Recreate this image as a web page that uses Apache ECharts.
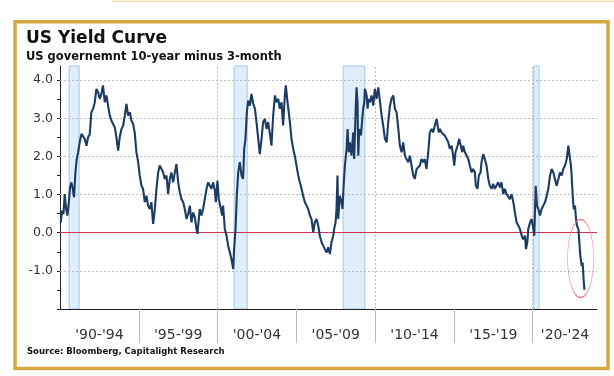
<!DOCTYPE html>
<html>
<head>
<meta charset="utf-8">
<script src="https://cdn.jsdelivr.net/npm/echarts@6/dist/echarts.min.js"></script>
<style>
html,body{margin:0;padding:0;background:#fff;}
#chart{width:614px;height:376px;}
</style>
</head>
<body>
<div id="chart"></div>
<script>
// [decimal year, 10y - 3m spread in %]
var spread1990s = [
[1990.05,0.27],[1990.13,0.58],[1990.22,0.49],[1990.30,1.01],[1990.39,0.62],[1990.47,0.45],[1990.56,0.80],[1990.64,1.19],
[1990.72,1.32],[1990.81,1.15],[1990.89,0.93],[1990.98,1.58],[1991.06,1.93],[1991.15,2.11],[1991.25,2.37],[1991.36,2.59],
[1991.47,2.63],[1991.57,2.46],[1991.68,2.28],[1991.78,2.50],[1991.89,2.59],[1991.99,3.16],[1992.10,3.25],[1992.21,3.42],
[1992.31,3.77],[1992.42,3.68],[1992.52,3.51],[1992.63,3.64],[1992.73,3.86],[1992.84,3.42],[1992.95,3.60],[1993.05,3.33],
[1993.16,3.07],[1993.26,2.94],[1993.37,2.98],[1993.48,2.76],[1993.58,2.50],[1993.69,2.15],[1993.79,2.50],[1993.90,2.72],
[1994.01,2.81],[1994.11,3.07],[1994.22,3.38],[1994.32,3.07],[1994.43,3.16],[1994.53,2.94],[1994.64,2.85],[1994.74,2.63],
[1994.85,2.11],[1994.96,1.85],[1995.06,1.50],[1995.17,1.23],[1995.27,1.15],[1995.38,0.80],[1995.49,0.97],[1995.59,0.71],
[1995.70,0.62],[1995.80,0.80],[1995.91,0.23],[1996.02,0.62],[1996.12,1.15],[1996.23,1.58],[1996.33,1.76],[1996.44,1.67],
[1996.55,1.58],[1996.65,1.41],[1996.76,1.50],[1996.86,1.01],[1996.97,1.41],[1997.07,1.58],[1997.18,1.32],[1997.29,1.58],
[1997.39,1.80],[1997.50,1.32],[1997.60,1.06],[1997.71,0.88],[1997.82,0.80],[1997.92,0.62],[1998.03,0.36],[1998.13,0.49],
[1998.24,0.71],[1998.34,0.27],[1998.45,0.53],[1998.56,0.40],[1998.66,0.10],[1998.72,-0.03],[1998.81,0.36],[1998.87,0.62],
[1998.98,0.45],[1999.08,0.62],[1999.19,0.88],[1999.30,1.15],[1999.40,1.32],[1999.51,1.23],[1999.61,1.15],[1999.72,1.32],
[1999.83,1.10],[1999.89,0.80],[1999.99,1.36]
];
var spread2000s = [
[2000.08,0.88],[2000.21,0.62],[2000.29,0.45],[2000.35,0.71],[2000.46,0.10],[2000.57,-0.08],[2000.67,-0.34],[2000.78,-0.52],
[2000.88,-0.69],[2000.99,-0.95],[2001.05,-0.43],[2001.14,0.10],[2001.22,0.97],[2001.31,1.58],[2001.41,1.85],[2001.52,1.50],
[2001.62,1.41],[2001.69,2.20],[2001.77,2.46],[2001.86,3.16],[2001.94,3.46],[2002.05,3.33],[2002.15,3.64],[2002.26,3.38],
[2002.37,3.25],[2002.47,2.90],[2002.58,2.46],[2002.68,2.06],[2002.79,2.46],[2002.89,2.90],[2003.00,2.98],[2003.11,2.72],
[2003.21,2.90],[2003.32,2.59],[2003.42,2.28],[2003.53,3.07],[2003.64,3.60],[2003.74,3.42],[2003.85,3.51],[2003.95,3.25],
[2004.06,3.42],[2004.16,2.81],[2004.27,3.60],[2004.33,3.86],[2004.44,3.42],[2004.59,2.90],[2004.69,2.46],[2004.80,2.20],
[2004.90,2.02],[2005.01,1.76],[2005.12,1.50],[2005.22,1.32],[2005.33,1.15],[2005.43,0.97],[2005.54,0.80],[2005.65,0.71],
[2005.75,0.62],[2005.86,0.45],[2005.96,0.36],[2006.07,0.01],[2006.17,0.27],[2006.28,0.36],[2006.39,0.18],[2006.49,-0.08],
[2006.60,-0.25],[2006.70,-0.30],[2006.81,-0.43],[2006.92,-0.52],[2007.02,-0.38],[2007.13,-0.56],[2007.23,-0.25],[2007.34,-0.08],
[2007.40,0.10],[2007.49,0.27],[2007.55,0.62],[2007.61,1.50],[2007.66,0.36],[2007.76,0.97],[2007.87,0.80],[2007.93,0.62],
[2007.99,1.15],[2008.04,1.50],[2008.08,1.76],[2008.19,2.20],[2008.25,2.72],[2008.33,2.11],[2008.40,2.37],[2008.50,2.02],
[2008.61,2.63],[2008.67,1.93],[2008.76,3.16],[2008.82,3.81],[2008.88,3.42],[2008.93,2.02],[2008.99,2.72],[2009.10,2.55],
[2009.18,2.98],[2009.24,3.25],[2009.31,3.42],[2009.35,3.77],[2009.46,3.60],[2009.52,3.25],[2009.60,3.51],[2009.67,3.42],
[2009.77,3.60],[2009.88,3.33],[2009.98,3.77]
];
var spread2010s = [
[2010.09,3.51],[2010.20,3.81],[2010.30,3.46],[2010.41,3.07],[2010.51,2.81],[2010.62,2.46],[2010.73,2.37],[2010.83,2.90],
[2010.94,3.33],[2011.04,3.51],[2011.15,3.60],[2011.25,3.25],[2011.36,3.16],[2011.47,2.72],[2011.57,2.28],[2011.68,2.11],
[2011.78,2.37],[2011.89,2.02],[2011.99,1.93],[2012.10,1.85],[2012.21,2.02],[2012.31,1.76],[2012.42,1.50],[2012.52,1.41],
[2012.63,1.67],[2012.74,1.71],[2012.84,1.76],[2012.94,1.93],[2013.05,1.85],[2013.15,1.93],[2013.26,1.67],[2013.37,2.11],
[2013.47,2.63],[2013.58,2.72],[2013.68,2.63],[2013.79,2.81],[2013.90,2.98],[2013.96,2.94],[2014.04,2.63],[2014.11,2.72],
[2014.21,2.63],[2014.32,2.59],[2014.42,2.55],[2014.53,2.46],[2014.64,2.37],[2014.74,2.20],[2014.85,2.28],[2014.95,2.02],
[2015.02,1.76],[2015.10,2.11],[2015.23,2.28],[2015.33,2.46],[2015.44,2.41],[2015.53,2.11],[2015.59,2.28],[2015.70,2.11],
[2015.80,2.06],[2015.91,1.93],[2016.01,1.76],[2016.12,1.58],[2016.22,1.67],[2016.33,1.58],[2016.39,1.23],[2016.50,1.15],
[2016.58,1.50],[2016.69,1.58],[2016.75,1.85],[2016.86,2.06],[2016.96,1.93],[2017.07,1.76],[2017.18,1.41],[2017.28,1.23],
[2017.39,1.15],[2017.49,1.28],[2017.60,1.15],[2017.71,1.10],[2017.81,1.32],[2017.92,1.19],[2018.02,1.32],[2018.13,1.01],
[2018.23,1.15],[2018.34,1.01],[2018.45,0.97],[2018.55,0.88],[2018.66,1.01],[2018.77,0.80],[2018.87,0.53],[2018.98,0.27],
[2019.09,0.18],[2019.19,0.10],[2019.30,-0.08],[2019.40,-0.17],[2019.51,-0.08],[2019.57,-0.43],[2019.66,-0.25],[2019.72,0.10],
[2019.83,0.27],[2019.93,0.36]
];
var spread2020s = [
[2020.04,0.10],[2020.10,-0.08],[2020.19,1.23],[2020.27,0.71],[2020.36,0.62],[2020.46,0.45],[2020.57,0.62],[2020.67,0.71],
[2020.78,0.80],[2020.89,0.97],[2020.99,1.15],[2021.10,1.50],[2021.20,1.67],[2021.31,1.58],[2021.41,1.41],[2021.52,1.23],
[2021.63,1.41],[2021.73,1.58],[2021.84,1.50],[2021.94,1.67],[2022.05,1.76],[2022.16,1.93],[2022.26,2.28],[2022.30,2.33],
[2022.37,1.93],[2022.43,1.76],[2022.47,1.50],[2022.54,0.97],[2022.60,0.62],[2022.68,0.71],[2022.75,0.36],[2022.81,0.18],
[2022.90,0.10],[2022.96,-0.25],[2023.02,-0.60],[2023.11,-0.87],[2023.17,-0.78],[2023.23,-1.22],[2023.28,-1.50]
];
var recessions = [[1990.58,1991.21],[2001.05,2001.88],[2007.97,2009.35],[2020.06,2020.40]];
var periodStarts = [1990,1995,2000,2005,2010,2015,2020];
var periodLabels = ["'90-'94","'95-'99","'00-'04","'05-'09","'10-'14","'15-'19","'20-'24"];
var labelCenters = [1992.5,1997.5,2002.5,2007.5,2012.5,2017.5,2022.05];
var yTickLabels = [-1,0,1,2,3,4];
var yGridValues = [-1,1,2,3,4];
var xGridValues = [2000,2010,2020];
var highlight = [2023.04,-0.675];

var allData = spread1990s.concat(spread2000s, spread2010s, spread2020s);
var chart = echarts.init(document.getElementById('chart'), null, {renderer:'canvas'});

var mlData = [];
yGridValues.forEach(function(v){ mlData.push({yAxis:v}); });
xGridValues.forEach(function(v){ mlData.push({xAxis:v}); });
mlData.push({yAxis:0, lineStyle:{type:'solid', color:'#cf3350', width:1}});

var yTicks = [];
for (var t = -2; t <= 4; t += 0.5) yTicks.push(t);

chart.setOption({
  animation:false,
  title:{
    text:'US Yield Curve',
    subtext:'US governemnt 10-year minus 3-month',
    left:21, top:25, itemGap:4,
    textStyle:{fontFamily:'DejaVu Sans', fontWeight:'bold', fontSize:17, color:'#111'},
    subtextStyle:{fontFamily:'DejaVu Sans', fontWeight:'bold', fontSize:11.5, color:'#111'}
  },
  graphic:[
    {type:'rect', shape:{x:113, y:-3, width:510, height:4.5}, style:{fill:'#fbf4e2', stroke:'#ecd9a8', lineWidth:1}, silent:true},
    {type:'rect', shape:{x:15, y:21.7, width:593, height:346.8}, style:{fill:'none', stroke:'#d6a63f', lineWidth:3.5}, silent:true},
    {type:'text', left:27, top:347, style:{text:'Source: Bloomberg, Capitalight Research', fontFamily:'DejaVu Sans', fontWeight:'bold', fontSize:8.5, fill:'#111'}, silent:true}
  ],
  grid:{left:60, right:17, top:66, bottom:67},
  xAxis:{
    type:'value', min:1990, max:2024.08,
    axisLine:{show:true, onZero:false, lineStyle:{color:'#222', width:1}},
    axisTick:{show:true, customValues:periodStarts.slice(1), length:34, lineStyle:{color:'#bcbcbc', width:1}},
    axisLabel:{
      customValues:labelCenters, margin:19,
      fontFamily:'DejaVu Sans', fontSize:14, color:'#333',
      formatter:function(v){
        var i = labelCenters.indexOf(v);
        return i >= 0 ? periodLabels[i] : '';
      }
    },
    splitLine:{show:false}
  },
  yAxis:{
    type:'value', min:-2, max:4.37,
    axisLine:{show:true, lineStyle:{color:'#222', width:1}},
    axisTick:{show:true, customValues:yTicks, length:3, lineStyle:{color:'#222'}},
    axisLabel:{customValues:yTickLabels, margin:7, fontFamily:'DejaVu Sans', fontSize:12.5, color:'#333',
      formatter:function(v){ return v.toFixed(1); }},
    splitLine:{show:false}
  },
  series:[
    {
      type:'line', data:allData, showSymbol:false, symbol:'none', z:2,
      lineStyle:{color:'#1d3c63', width:2.1},
      markArea:{
        silent:true, z:0,
        itemStyle:{color:'#deeefc', borderColor:'#a3c8ed', borderWidth:1},
        data:recessions.map(function(r){ return [{xAxis:r[0]},{xAxis:r[1]}]; })
      },
      markLine:{
        silent:true, z:1, symbol:'none', label:{show:false},
        lineStyle:{type:[2,2], color:'#bdbdbd', width:1},
        data:mlData
      }
    },
    {
      type:'scatter', data:[highlight], symbol:'circle', symbolSize:[26,78], z:3, silent:true,
      itemStyle:{color:'rgba(0,0,0,0)', borderColor:'#e57384', borderWidth:1}
    }
  ]
});
</script>
</body>
</html>
